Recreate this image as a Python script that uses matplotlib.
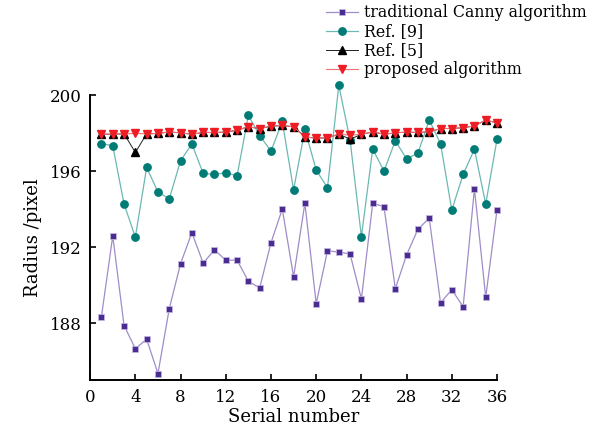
import numpy as np
import matplotlib.pyplot as plt

serial = np.arange(1, 37)

canny = [188.35, 192.6, 187.88, 186.66, 187.16, 185.35, 188.77, 191.14, 192.77, 191.17,
         191.87, 191.32, 191.33, 190.21, 189.86, 192.24, 194.02, 190.44, 194.33, 189.03,
         191.82, 191.75, 191.65, 189.28, 194.32, 194.14, 189.82, 191.6, 192.95, 193.54,
         189.08, 189.77, 188.87, 195.08, 189.37, 193.98]

ref9 = [197.47, 197.35, 194.28, 192.54, 196.21, 194.91, 194.56, 196.56, 197.45, 195.89,
        195.84, 195.93, 195.77, 198.95, 197.89, 197.07, 198.63, 195.03, 198.21, 196.07,
        195.14, 200.53, 197.65, 192.56, 197.17, 196.02, 197.61, 196.66, 196.96, 198.7,
        197.47, 193.96, 195.84, 197.17, 194.28, 197.7]

ref5 = [197.96, 197.96, 197.98, 197.0, 197.98, 198.0, 198.08, 198.03, 197.96, 198.05,
        198.05, 198.07, 198.17, 198.35, 198.26, 198.38, 198.42, 198.35, 197.82, 197.75,
        197.77, 197.96, 197.7, 197.95, 198.08, 197.96, 198.03, 198.07, 198.05, 198.08,
        198.26, 198.26, 198.3, 198.4, 198.7, 198.56]

proposed = [197.96, 197.96, 197.98, 198.0, 197.98, 198.0, 198.08, 198.03, 197.96, 198.05,
            198.05, 198.07, 198.17, 198.35, 198.26, 198.38, 198.42, 198.35, 197.82, 197.75,
            197.77, 197.96, 197.91, 197.95, 198.08, 197.96, 198.03, 198.07, 198.05, 198.08,
            198.26, 198.26, 198.3, 198.4, 198.7, 198.56]

plt.rcParams['font.family'] = 'DejaVu Serif'
plt.rcParams['font.size'] = 12

fig = plt.figure(figsize=(6.01, 4.36), dpi=100)
ax = fig.add_axes([0.150, 0.128, 0.677, 0.653])

ax.plot(serial, canny, '-s', color='#a08cc8', lw=0.9, ms=4.6, mfc='#4b2d92', mec='#c7b9e3',
        mew=0.5, label='traditional Canny algorithm', clip_on=False, zorder=3)
ax.plot(serial, ref9, '-o', color='#6cb8b2', lw=0.9, ms=5.3, mfc='#007b76', mec='#007b76',
        label='Ref. [9]', clip_on=False, zorder=4)
ax.plot(serial, ref5, '-^', color='#222222', lw=0.7, ms=5.8, mfc='black', mec='black',
        label='Ref. [5]', clip_on=False, zorder=5)
ax.plot(serial, proposed, '-v', color='#f07070', lw=0.8, ms=5.8, mfc='#ee1c24', mec='#ee1c24',
        label='proposed algorithm', clip_on=False, zorder=6)

ax.set_xlim(0, 36)
ax.set_ylim(185, 200)
ax.set_xticks(range(0, 37, 4))
ax.set_yticks([188, 192, 196, 200])
ax.tick_params(direction='in', length=4, width=1.2, labelsize=12, pad=6)
for s in ['top', 'right']:
    ax.spines[s].set_visible(False)
for s in ['left', 'bottom']:
    ax.spines[s].set_linewidth(1.4)

ax.set_xlabel('Serial number', fontsize=13, labelpad=2)
ax.set_ylabel('Radius /pixel', fontsize=13, labelpad=6)

ax.legend(loc='upper left', bbox_to_anchor=(0.543, 0.99), bbox_transform=fig.transFigure,
          frameon=False, borderpad=0, borderaxespad=0, handlelength=2.0,
          handletextpad=0.4, labelspacing=0.12, fontsize=11.4)

fig.savefig('out.png', dpi=100)
